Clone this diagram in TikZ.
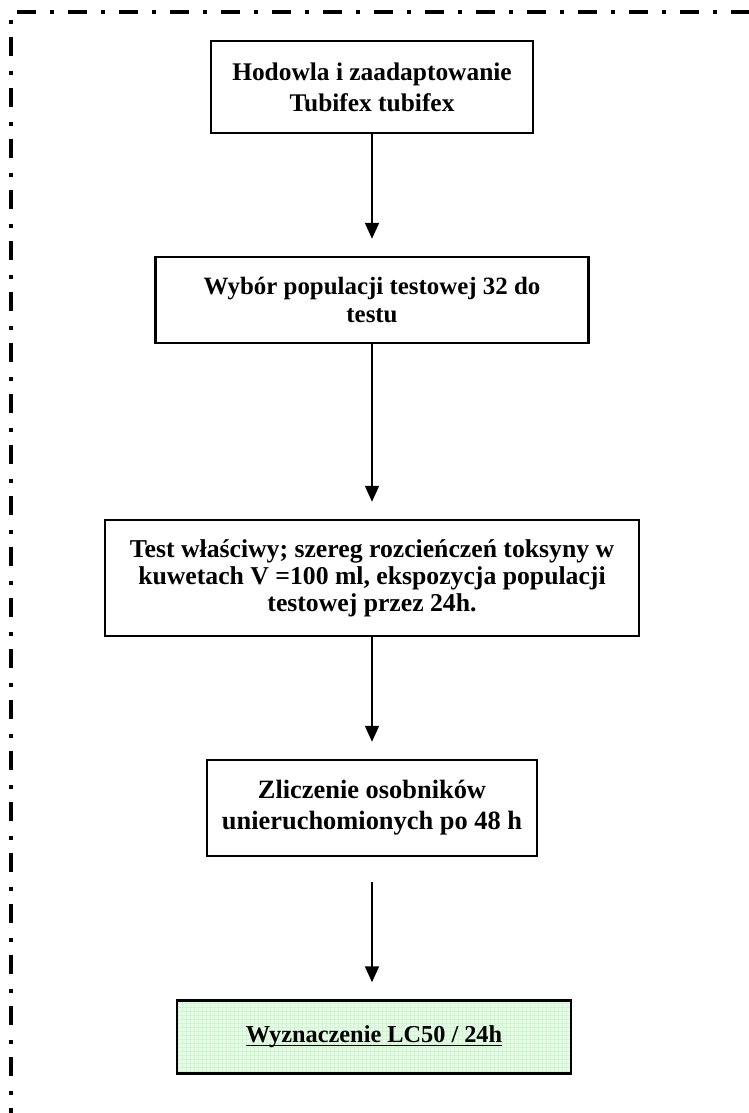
\documentclass[tikz,border=0pt]{standalone}
\usepackage{fontspec}
\setmainfont{Liberation Serif}
\usetikzlibrary{arrows.meta}

\definecolor{boxgreen}{RGB}{230,252,230}
\definecolor{gridgreen}{RGB}{212,242,212}

% heavier underline for the last step
\newcommand\heavyul[1]{\setbox0\hbox{#1}\rlap{\rule[-3.5bp]{\wd0}{1.8bp}}\box0}

\tikzset{
  stepbox/.style={draw, line width=2.5bp, align=center, inner sep=0pt,
    font=\bfseries\fontsize{25}{29}\selectfont},
  flow/.style={line width=2bp, -{Triangle[width=14bp,length=16bp]}, shorten >=17bp},
  frame/.style={line width=4bp}
}

\begin{document}
\begin{tikzpicture}[x=1bp,y=-1bp]
    \useasboundingbox (0,0) rectangle (749,1113);

    % dash-dot frame
    \draw[frame, dash pattern=on 19bp off 14bp on 4bp off 14bp] (17,12) -- (749,12);
    \draw[frame, dash pattern=on 4bp off 13bp on 19bp off 15bp] (11,20) -- (11,1113);

    % steps
    \node[stepbox, minimum width=322bp, minimum height=92bp,
      font=\bfseries\fontsize{25.5}{31}\selectfont] (breed) at (372,87)
      {Hodowla i zaadaptowanie\\Tubifex tubifex};
    \node[stepbox, minimum width=433bp, minimum height=86bp] (select) at (372,300)
      {Wybór populacji testowej 32 do\\testu};
    \node[stepbox, minimum width=534bp, minimum height=116bp,
      font=\bfseries\fontsize{25.8}{27}\selectfont] (test) at (372,578)
      {Test właściwy; szereg rozcieńczeń toksyny w\\kuwetach V =100 ml, ekspozycja populacji\\testowej przez 24h.};
    \node[stepbox, minimum width=330bp, minimum height=96bp,
      font=\bfseries\fontsize{26.5}{31}\selectfont] (count) at (372,808)
      {Zliczenie osobników\\unieruchomionych po 48 h};
    \node[stepbox, fill=boxgreen, minimum width=394bp, minimum height=73bp,
      font=\bfseries\fontsize{24.4}{29}\selectfont,
      path picture={\draw[gridgreen, line width=0.6bp, step=4bp]
        (path picture bounding box.south west) grid (path picture bounding box.north east);}]
      (lc) at (374,1037) {\heavyul{Wyznaczenie LC50 / 24h}};

    % arrows
    \draw[flow] (breed.south) -- (select.north);
    \draw[flow] (select.south) -- (test.north);
    \draw[flow] (test.south) -- (count.north);
    \draw[flow, shorten <=25bp] (count.south) -- (count.south |- lc.north);
\end{tikzpicture}
\end{document}
